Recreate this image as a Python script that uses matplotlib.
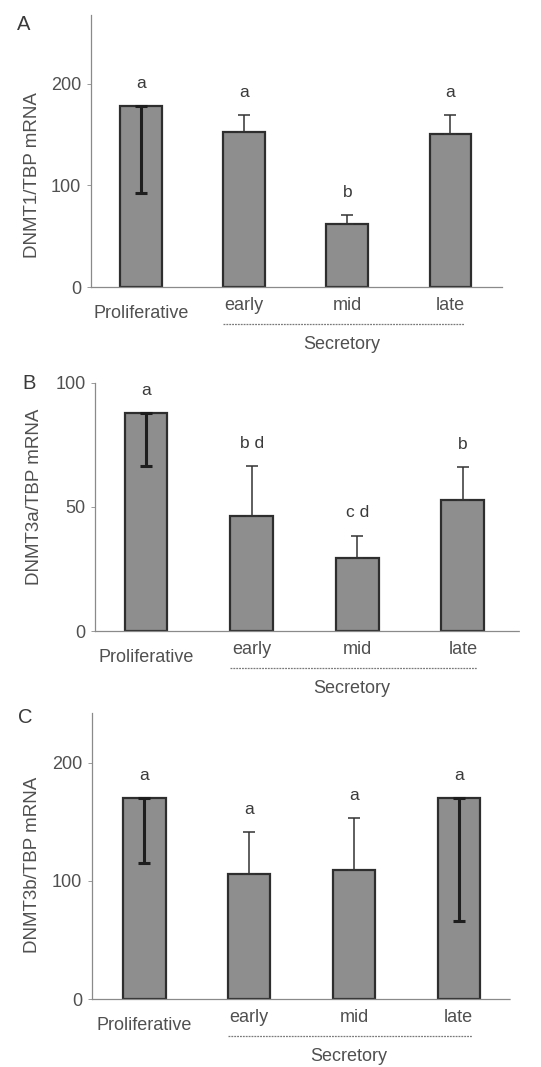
import matplotlib
matplotlib.use("Agg")
import matplotlib.pyplot as plt
from matplotlib.transforms import blended_transform_factory, ScaledTranslation

plt.rcParams['font.family'] = ['Liberation Sans', 'DejaVu Sans']

# ---- data ----
stages = ["Proliferative", "early", "mid", "late"]
phase_label = "Secretory"

dnmt1_mean = [178, 153, 62, 151]
dnmt1_err = [85, 16, 9, 18]
dnmt1_err_down = [True, False, False, False]
dnmt1_letters = ["a", "a", "b", "a"]

dnmt3a_mean = [88, 46.5, 29.5, 53]
dnmt3a_err = [21.5, 20, 9, 13]
dnmt3a_err_down = [True, False, False, False]
dnmt3a_letters = ["a", "b d", "c d", "b"]

dnmt3b_mean = [170, 106, 109, 170]
dnmt3b_err = [55, 35.5, 44, 104]
dnmt3b_err_down = [True, False, False, True]
dnmt3b_letters = ["a", "a", "a", "a"]

panels = [
    dict(tag="A", ylabel="DNMT1/TBP mRNA", mean=dnmt1_mean, err=dnmt1_err,
         down=dnmt1_err_down, letters=dnmt1_letters, ticks=[0, 100, 200],
         ylim=268, xlim=(-0.485, 3.5), rect=[0.168, 0.731, 0.760, 0.255],
         ylab_y=0.41, tag_xy=(0.043, 0.977)),
    dict(tag="B", ylabel="DNMT3a/TBP mRNA", mean=dnmt3a_mean, err=dnmt3a_err,
         down=dnmt3a_err_down, letters=dnmt3a_letters, ticks=[0, 50, 100],
         ylim=100, xlim=(-0.48, 3.54), rect=[0.176, 0.4086, 0.785, 0.2325],
         ylab_y=0.54, tag_xy=(0.054, 0.641)),
    dict(tag="C", ylabel="DNMT3b/TBP mRNA", mean=dnmt3b_mean, err=dnmt3b_err,
         down=dnmt3b_err_down, letters=dnmt3b_letters, ticks=[0, 100, 200],
         ylim=242, xlim=(-0.5, 3.49), rect=[0.170, 0.0637, 0.773, 0.268],
         ylab_y=0.47, tag_xy=(0.046, 0.328)),
]

text_col = "#505050"
bar_face = "#8e8e8e"
bar_edge = "#2e2e2e"
axis_col = "#8a8a8a"

fig = plt.figure(figsize=(5.41, 10.67), dpi=100)
fig.patch.set_facecolor("white")


def px(n):
    return n / 100.0


for p in panels:
    ax = fig.add_axes(p["rect"])
    x = list(range(len(stages)))
    ax.bar(x, p["mean"], width=0.405, color=bar_face, edgecolor=bar_edge,
           linewidth=1.6, zorder=2)

    for xi, m, e, d in zip(x, p["mean"], p["err"], p["down"]):
        if d:
            ax.errorbar([xi], [m], yerr=[[e], [0]], fmt="none",
                        ecolor="#1e1e1e", elinewidth=2.2, capsize=4.5,
                        capthick=2.2, zorder=3)
        else:
            ax.errorbar([xi], [m], yerr=[[0], [e]], fmt="none",
                        ecolor="#333333", elinewidth=1.1, capsize=4,
                        capthick=1.1, zorder=3)

    # significance letters above each bar
    for xi, m, e, d, lab in zip(x, p["mean"], p["err"], p["down"], p["letters"]):
        top = m if d else m + e
        ax.annotate(lab, (xi, top), xytext=(0, 13), textcoords="offset points",
                    ha="center", va="baseline", fontsize=12.5, color="#3a3a3a")

    ax.set_xlim(*p["xlim"])
    ax.set_ylim(0, p["ylim"])
    ax.set_yticks(p["ticks"])
    ax.set_yticklabels([str(t) for t in p["ticks"]])
    ax.set_xticks([])
    ax.tick_params(axis="y", length=3, width=0.6, color=axis_col,
                   labelsize=13, labelcolor=text_col, pad=4)
    for s in ("top", "right"):
        ax.spines[s].set_visible(False)
    for s in ("left", "bottom"):
        ax.spines[s].set_color(axis_col)
        ax.spines[s].set_linewidth(0.9)
        ax.spines[s].set_linestyle((0, (1.5, 1)))

    # category labels below the axis
    trans = blended_transform_factory(ax.transData, ax.transAxes)
    for xi, name in zip(x, stages):
        drop = 26 if xi == 0 else 18
        ax.text(xi, 0, name, ha="center", va="center", fontsize=13,
                color=text_col,
                transform=trans + ScaledTranslation(0, -px(drop), fig.dpi_scale_trans))

    # grouping line and label for the secretory phase
    line_tr = trans + ScaledTranslation(0, -px(37), fig.dpi_scale_trans)
    ax.plot([0.8, 3.13], [0, 0], color="#7a7a7a", lw=0.9,
            linestyle=(0, (1.5, 0.8)), transform=line_tr, clip_on=False)
    ax.text(1.95, 0, phase_label, ha="center", va="center", fontsize=13,
            color=text_col,
            transform=trans + ScaledTranslation(0, -px(57), fig.dpi_scale_trans))

    # y axis title
    ax.text(-0.142, p["ylab_y"], p["ylabel"], rotation=90, ha="center",
            va="center", fontsize=13.5, color=text_col, transform=ax.transAxes)

    # panel tag
    fig.text(p["tag_xy"][0], p["tag_xy"][1], p["tag"], ha="center",
             va="center", fontsize=14.5, color="#3a3a3a")

fig.savefig("out.png", dpi=100, facecolor="white")
